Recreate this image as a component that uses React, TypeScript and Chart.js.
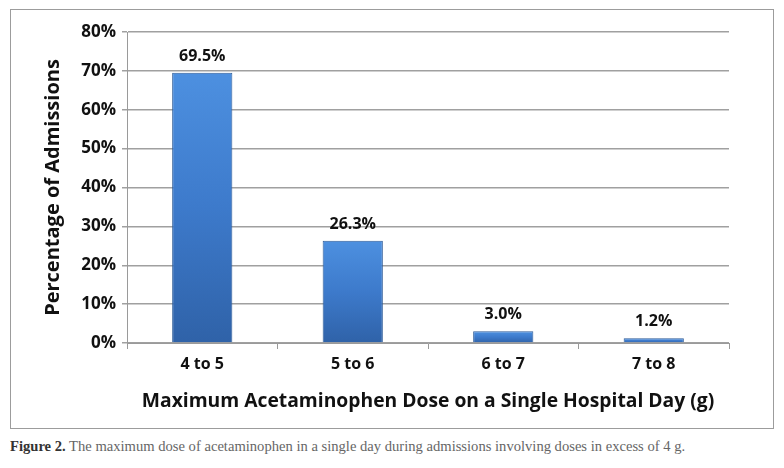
import React, { useEffect, useRef } from "react";
import { Chart, registerables } from "chart.js";

Chart.register(...registerables);

const categories = ["4 to 5", "5 to 6", "6 to 7", "7 to 8"];
const percentages = [69.5, 26.3, 3.0, 1.2];
const yTicks = [0, 10, 20, 30, 40, 50, 60, 70, 80];
const yTitle = "Percentage of Admissions";
const xTitle = "Maximum Acetaminophen Dose on a Single Hospital Day (g)";

const FONT = "'Open Sans', 'Noto Sans', sans-serif";

const valueLabels = {
  id: "valueLabels",
  afterDatasetsDraw(chart: any) {
    const ctx = chart.ctx;
    const meta = chart.getDatasetMeta(0);
    ctx.save();
    ctx.font = `bold 16px ${FONT}`;
    ctx.fillStyle = "#111";
    ctx.textAlign = "center";
    ctx.textBaseline = "alphabetic";
    meta.data.forEach((bar: any, i: number) => {
      ctx.fillText(percentages[i].toFixed(1) + "%", bar.x, bar.y - 12);
    });
    ctx.restore();
  },
};

export default function App() {
  const ref = useRef<HTMLCanvasElement | null>(null);
  useEffect(() => {
    if (!ref.current) return;
    const chart = new Chart(ref.current, {
      type: "bar",
      data: {
        labels: categories,
        datasets: [
          {
            data: percentages,
            backgroundColor: (c: any) => {
              const ch = c.chart;
              const ys = ch.scales && ch.scales.y;
              if (!ys || c.raw === undefined) return "#3b78c6";
              const top = ys.getPixelForValue(c.raw);
              const bot = ys.getPixelForValue(0);
              if (!isFinite(top) || !isFinite(bot) || bot - top < 1) return "#3b78c6";
              const g = ch.ctx.createLinearGradient(0, top, 0, bot);
              g.addColorStop(0, "#4d90e0");
              g.addColorStop(0.5, "#3d7acb");
              g.addColorStop(1, "#2f62a8");
              return g;
            },
            borderColor: "#2d5b98",
            borderWidth: 1,
            categoryPercentage: 0.8,
            barPercentage: 0.5,
          },
        ],
      },
      options: {
        animation: false,
        responsive: false,
        maintainAspectRatio: false,
        layout: { padding: { left: 30, right: 44, top: 22, bottom: 0 } },
        plugins: {
          legend: { display: false },
          tooltip: { enabled: false },
        },
        scales: {
          x: {
            grid: {
              display: true,
              drawOnChartArea: false,
              drawTicks: true,
              tickLength: 6,
              color: "#9a9a9a",
              offset: true,
            },
            border: { display: true, color: "#9a9a9a", width: 1 },
            ticks: {
              color: "#111",
              font: { family: FONT, size: 16, weight: "bold" },
              padding: 6,
            },
            title: {
              display: true,
              text: xTitle,
              color: "#111",
              font: { family: FONT, size: 19.3, weight: "bold" },
              padding: { top: 6, bottom: 15 },
            },
            afterFit: (s: any) => {
              s.height = 85;
            },
          },
          y: {
            min: 0,
            max: 80,
            afterBuildTicks: (s: any) => {
              s.ticks = yTicks.map((v) => ({ value: v }));
            },
            grid: {
              color: "#a0a0a0",
              lineWidth: 1.5,
              drawTicks: true,
              tickLength: 5,
            },
            border: { display: true, color: "#9a9a9a", width: 1 },
            ticks: {
              color: "#111",
              font: { family: FONT, size: 17, weight: "bold" },
              padding: 6,
              callback: (v: any) => v + "%",
            },
            title: {
              display: true,
              text: yTitle,
              color: "#111",
              font: { family: FONT, size: 20, weight: "bold" },
              padding: { top: 0, bottom: 0 },
            },
            afterFit: (s: any) => {
              s.width = 86;
            },
          },
        },
      },
      plugins: [valueLabels],
    });
    return () => chart.destroy();
  }, []);

  return (
    <div style={{ width: 768 }}>
      <div
        style={{
          marginLeft: 2,
          marginTop: 1,
          width: 762,
          height: 418,
          border: "1px solid #9c9c9c",
          background: "#fff",
        }}
      >
        <canvas ref={ref} width={762} height={418} style={{ display: "block" }} />
      </div>
      <div
        style={{
          marginLeft: 2,
          marginTop: 9,
          fontFamily: "'Liberation Serif', 'DejaVu Serif', serif",
          fontSize: 14.6,
          color: "#666",
          whiteSpace: "nowrap",
        }}
      >
        <span style={{ fontWeight: "bold", color: "#333" }}>Figure 2.</span> The maximum dose of
        acetaminophen in a single day during admissions involving doses in excess of 4 g.
      </div>
    </div>
  );
}
